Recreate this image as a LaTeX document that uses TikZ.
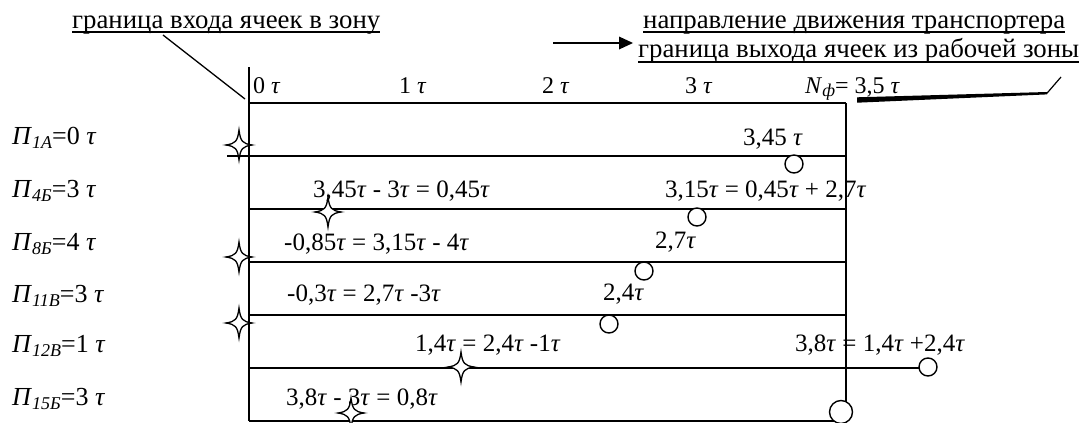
\documentclass[tikz,border=0pt]{standalone}
\usepackage{fontspec}
\setmainfont{Liberation Serif}
\newcommand{\tu}{\textit{τ}}
\newcommand{\sbs}[1]{\raisebox{-0.35ex}{\fontsize{18}{18}\selectfont\itshape #1}}
\begin{document}
\begin{tikzpicture}[x=1pt,y=-1pt,
  captxt/.style={anchor=base west, inner sep=0pt, font=\fontsize{26.8}{30}\selectfont},
  lbl/.style={anchor=base west, inner sep=0pt, font=\fontsize{26}{30}\selectfont},
  axl/.style={anchor=base west, inner sep=0pt, font=\fontsize{24}{28}\selectfont},
  txt/.style={anchor=base west, inner sep=0pt, font=\fontsize{25}{29}\selectfont},
  mk/.style={circle, draw, fill=white, inner sep=0pt, line width=1.4pt, minimum size=18pt},
  ln/.style={line width=1.6pt},
  uline/.style={line width=1.5pt},
  sparkle/.pic={\filldraw[fill=white, line width=1.3pt]
    (0,-15) .. controls (1.5,-3.5) and (3.5,-1.5) .. (13,0)
    .. controls (3.5,1.5) and (1.5,3.5) .. (0,15)
    .. controls (-1.5,3.5) and (-3.5,1.5) .. (-13,0)
    .. controls (-3.5,-1.5) and (-1.5,-3.5) .. cycle;}
]
\useasboundingbox (0,0) rectangle (1082,423);

% ---- top captions ----
\node[captxt] (capA) at (72,28) {граница входа ячеек в зону};
\draw[uline] ([yshift=-4pt]capA.base west) -- ([yshift=-4pt]capA.base east);
\node[captxt] (capB) at (643,28) {направление движения транспортера};
\draw[uline] ([yshift=-4pt]capB.base west) -- ([yshift=-4pt]capB.base east);
\node[captxt] (capC) at (638,57) {граница выхода ячеек из рабочей зоны};
\draw[uline] ([yshift=-5pt]capC.base west) -- ([yshift=-5pt]capC.base east);

% direction arrow
\coordinate (arrS) at (553,43);
\coordinate (arrE) at (633,43);
\draw[line width=2.6pt] (arrS) -- (620,43);
\fill (arrE) -- (619,36.5) -- (619,49.5) -- cycle;

% leader from entry caption
\coordinate (entA) at (163,35);
\coordinate (entB) at (245,99);
\draw[line width=1.3pt] (entA) -- (entB);

% leader from exit caption
\coordinate (exB) at (1047,93.2);
\coordinate (exC) at (1061,77);
\fill (857,97.3) -- (1047,92) -- (1047,94.4) -- (857,102.7) -- cycle;
\draw[line width=1.2pt] (exB) -- (exC);

% ---- axis labels ----
\node[axl] (t0) at (253,93) {0 \tu};
\node[axl] (t1) at (399,93) {1 \tu};
\node[axl] (t2) at (542,93) {2 \tu};
\node[axl] (t3) at (685,93) {3 \tu};
\node[axl] (tN) at (805,93) {\textit{N}\sbs{ф}= 3,5 \tu};

% ---- grid ----
\draw[ln] (249,67) -- (249,421);
\draw[ln] (846,103) -- (846,421);
\draw[ln] (249,103) -- (846,103);
\draw[ln] (227,156) -- (846,156);
\draw[ln] (249,209) -- (846,209);
\draw[ln] (249,262) -- (846,262);
\draw[ln] (249,315) -- (846,315);
\draw[ln] (249,368) -- (928,368);
\draw[ln] (249,421) -- (846,421);

% ---- row labels ----
\node[lbl] (r1) at (12,144) {\textit{П}\sbs{1А}=0 \tu};
\node[lbl] (r2) at (12,197) {\textit{П}\sbs{4Б}=3 \tu};
\node[lbl] (r3) at (12,250) {\textit{П}\sbs{8Б}=4 \tu};
\node[lbl] (r4) at (12,302) {\textit{П}\sbs{11В}=3 \tu};
\node[lbl] (r5) at (12,352) {\textit{П}\sbs{12В}=1 \tu};
\node[lbl] (r6) at (12,405) {\textit{П}\sbs{15Б}=3 \tu};

% ---- row texts ----
\node[txt] (a1) at (743,145) {3,45 \tu};
\node[txt] (a2) at (313,197) {3,45\tu{} - 3\tu{} = 0,45\tu};
\node[txt] (b2) at (665,197) {3,15\tu{} = 0,45\tu{} + 2,7\tu};
\node[txt] (a3) at (284,250) {-0,85\tu{} = 3,15\tu{} - 4\tu};
\node[txt] (b3) at (655,248) {2,7\tu};
\node[txt] (a4) at (287,301) {-0,3\tu{} = 2,7\tu{} -3\tu};
\node[txt] (b4) at (603,300) {2,4\tu};
\node[txt] (a5) at (415,351) {1,4\tu{} = 2,4\tu{} -1\tu};
\node[txt] (b5) at (795,351) {3,8\tu{} = 1,4\tu{} +2,4\tu};
\node[txt] (a6) at (286,405) {3,8\tu{} - 3\tu{} = 0,8\tu};

% ---- stars (cell entries) ----
\pic at (239,145) {sparkle};
\pic at (328,212) {sparkle};
\pic at (239,257) {sparkle};
\pic at (239,323) {sparkle};
\pic at (461,367) {sparkle};
\pic at (351,413) {sparkle};

% ---- circles (cell exits) ----
\node[mk] (c1) at (794,164) {};
\node[mk] (c2) at (697,217) {};
\node[mk] (c3) at (644,271) {};
\node[mk] (c4) at (609,324) {};
\node[mk] (c5) at (928,367) {};
\node[mk, minimum size=23pt] (c6) at (841,412) {};
\end{tikzpicture}
\end{document}
